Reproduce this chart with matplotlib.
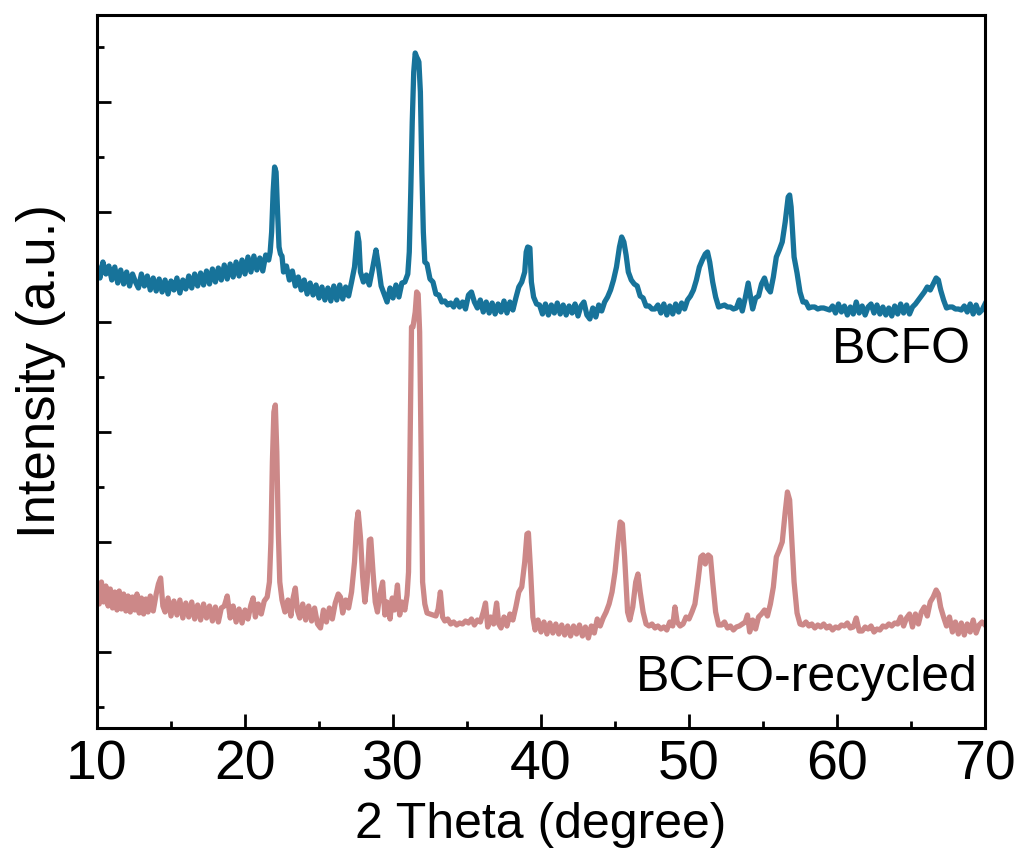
import matplotlib
matplotlib.use("Agg")
import matplotlib.pyplot as plt
from matplotlib.ticker import MultipleLocator, NullFormatter

plt.rcParams['font.family'] = ['Liberation Sans', 'DejaVu Sans']

# ---- BCFO (upper pattern) ----
bcfo_x = [10.0, 10.2, 10.4, 10.6, 10.8, 11.0, 11.2, 11.4, 11.6, 11.8, 12.0, 12.2, 12.4, 12.6, 12.8,
          13.0, 13.2, 13.4, 13.6, 13.8, 14.0, 14.2, 14.4, 14.6, 14.8, 15.0, 15.2, 15.4, 15.6, 15.8,
          16.0, 16.2, 16.4, 16.6, 16.8, 17.0, 17.2, 17.4, 17.6, 17.8, 18.0, 18.2, 18.4, 18.6, 18.8,
          19.0, 19.2, 19.4, 19.6, 19.8, 20.0, 20.2, 20.4, 20.6, 20.8, 21.0, 21.2, 21.4, 21.6, 21.7,
          21.8, 21.9, 22.0, 22.1, 22.2, 22.3, 22.4, 22.5, 22.6, 22.8, 23.0, 23.2, 23.4, 23.6, 23.8,
          24.0, 24.2, 24.4, 24.6, 24.8, 25.0, 25.2, 25.4, 25.6, 25.8, 26.0, 26.2, 26.4, 26.6, 26.8,
          27.0, 27.2, 27.4, 27.6, 27.7, 27.8, 28.0, 28.2, 28.4, 28.6, 28.85, 29.0, 29.2, 29.4, 29.6,
          29.8, 30.0, 30.2, 30.4, 30.6, 30.8, 31.0, 31.1, 31.2, 31.3, 31.4, 31.5, 31.6, 31.7, 31.75,
          31.85, 31.95, 32.05, 32.15, 32.3, 32.5, 32.7, 32.9, 33.1, 33.3, 33.5, 33.7, 33.9, 34.1, 34.3,
          34.5, 34.7, 34.9, 35.1, 35.3, 35.5, 35.7, 35.9, 36.1, 36.3, 36.5, 36.7, 36.9, 37.1, 37.3,
          37.5, 37.7, 37.9, 38.1, 38.3, 38.5, 38.7, 38.9, 39.0, 39.1, 39.25, 39.35, 39.5, 39.7, 39.9,
          40.1, 40.3, 40.5, 40.7, 40.9, 41.1, 41.3, 41.5, 41.7, 41.9, 42.1, 42.3, 42.5, 42.7, 42.9,
          43.1, 43.3, 43.5, 43.7, 43.9, 44.1, 44.3, 44.5, 44.7, 44.9, 45.1, 45.3, 45.45, 45.6, 45.75,
          45.9, 46.1, 46.3, 46.5, 46.7, 46.9, 47.1, 47.3, 47.5, 47.7, 47.9, 48.1, 48.3, 48.5, 48.7,
          48.9, 49.1, 49.3, 49.5, 49.7, 49.9, 50.1, 50.3, 50.5, 50.7, 50.9, 51.1, 51.25, 51.4, 51.6,
          51.8, 52.0, 52.2, 52.4, 52.6, 52.8, 53.0, 53.2, 53.4, 53.6, 53.8, 54.0, 54.15, 54.3, 54.5,
          54.7, 54.9, 55.1, 55.3, 55.5, 55.7, 55.9, 56.1, 56.3, 56.5, 56.7, 56.8, 56.9, 57.0, 57.1,
          57.3, 57.5, 57.7, 57.9, 58.1, 58.3, 58.5, 58.7, 58.9, 59.1, 59.3, 59.5, 59.7, 59.9, 60.1,
          60.3, 60.5, 60.7, 60.9, 61.1, 61.3, 61.5, 61.7, 61.9, 62.1, 62.3, 62.5, 62.7, 62.9, 63.1,
          63.3, 63.5, 63.7, 63.9, 64.1, 64.3, 64.5, 64.7, 64.9, 65.1, 65.3, 65.5, 65.7, 65.9, 66.1,
          66.3, 66.5, 66.7, 66.85, 67.0, 67.2, 67.4, 67.6, 67.8, 68.0, 68.2, 68.4, 68.6, 68.8, 69.0,
          69.2, 69.4, 69.6, 69.8, 70.0]
bcfo_y = [385, 374, 390, 378, 386, 372, 385, 369, 382, 368, 380, 366, 378, 370, 364,
          378, 366, 376, 362, 374, 361, 373, 360, 372, 358, 371, 362, 374, 359, 372,
          363, 376, 364, 378, 366, 379, 367, 381, 368, 383, 370, 384, 372, 387, 373,
          388, 375, 390, 376, 392, 378, 395, 380, 396, 382, 394, 381, 397, 392, 400,
          420, 460, 485, 480, 440, 405, 398, 396, 380, 386, 372, 381, 366, 375, 362,
          372, 358, 369, 357, 367, 354, 365, 352, 364, 351, 366, 352, 367, 353, 365,
          356, 370, 385, 419, 410, 380, 370, 377, 367, 382, 402, 388, 366, 358, 350,
          364, 354, 367, 355, 369, 370, 378, 400, 460, 530, 580, 599, 595, 592, 590,
          560, 480, 420, 390, 388, 373, 370, 358, 357, 350, 351, 347, 349, 345, 352,
          345, 350, 343, 357, 360, 350, 344, 352, 340, 350, 339, 349, 338, 348, 340,
          351, 339, 350, 342, 354, 365, 370, 380, 400, 405, 404, 370, 355, 348, 347,
          338, 348, 337, 347, 339, 349, 338, 347, 337, 346, 339, 348, 336, 346, 350,
          337, 333, 344, 335, 347, 341, 350, 355, 362, 372, 385, 405, 415, 410, 397,
          380, 372, 368, 366, 356, 354, 346, 346, 343, 343, 347, 339, 348, 337, 346,
          338, 348, 340, 349, 343, 352, 356, 362, 372, 385, 392, 398, 400, 390, 370,
          355, 345, 346, 347, 345, 345, 343, 344, 352, 341, 354, 369, 356, 343, 354,
          356, 368, 374, 364, 360, 375, 395, 402, 410, 430, 455, 457, 445, 420, 395,
          379, 360, 350, 350, 344, 345, 345, 343, 344, 344, 343, 342, 346, 339, 348,
          340, 346, 337, 345, 338, 350, 339, 346, 337, 345, 348, 339, 347, 338, 345,
          337, 344, 336, 346, 338, 348, 339, 347, 338, 345, 348, 352, 356, 360, 365,
          362, 368, 374, 372, 362, 352, 344, 345, 345, 343, 343, 342, 346, 340, 348,
          338, 347, 339, 342, 348]

# ---- BCFO-recycled (lower pattern) ----
rec_x = [10.0, 10.15, 10.3, 10.45, 10.6, 10.75, 10.9, 11.05, 11.2, 11.35, 11.5, 11.65, 11.8, 11.95, 12.1,
         12.25, 12.4, 12.55, 12.7, 12.85, 13.0, 13.15, 13.3, 13.45, 13.6, 13.8, 14.0, 14.15, 14.3, 14.45,
         14.6, 14.8, 15.0, 15.2, 15.4, 15.6, 15.8, 16.0, 16.2, 16.4, 16.6, 16.8, 17.0, 17.2, 17.4,
         17.6, 17.8, 18.0, 18.2, 18.4, 18.6, 18.8, 19.0, 19.2, 19.4, 19.6, 19.8, 20.0, 20.2, 20.4,
         20.55, 20.7, 20.9, 21.1, 21.3, 21.5, 21.65, 21.75, 21.85, 21.95, 22.05, 22.15, 22.25, 22.35, 22.5,
         22.7, 22.9, 23.1, 23.25, 23.4, 23.55, 23.7, 23.9, 24.1, 24.3, 24.5, 24.7, 24.9, 25.1, 25.3,
         25.5, 25.7, 25.9, 26.1, 26.3, 26.45, 26.6, 26.8, 27.0, 27.2, 27.4, 27.55, 27.65, 27.8, 27.95,
         28.1, 28.25, 28.4, 28.5, 28.65, 28.8, 28.95, 29.1, 29.3, 29.45, 29.6, 29.8, 29.95, 30.1, 30.3,
         30.45, 30.6, 30.8, 30.95, 31.05, 31.15, 31.25, 31.35, 31.5, 31.6, 31.7, 31.8, 31.9, 32.0, 32.15,
         32.3, 32.5, 32.7, 32.9, 33.05, 33.2, 33.35, 33.5, 33.7, 33.9, 34.1, 34.3, 34.5, 34.7, 34.9,
         35.1, 35.3, 35.5, 35.7, 35.9, 36.1, 36.25, 36.4, 36.6, 36.8, 37.0, 37.15, 37.3, 37.5, 37.7,
         37.9, 38.1, 38.3, 38.5, 38.7, 38.9, 39.05, 39.15, 39.3, 39.45, 39.6, 39.8, 40.0, 40.2, 40.4,
         40.6, 40.8, 41.0, 41.2, 41.4, 41.6, 41.8, 42.0, 42.2, 42.4, 42.6, 42.8, 43.0, 43.2, 43.4,
         43.6, 43.8, 44.0, 44.2, 44.4, 44.6, 44.8, 45.0, 45.2, 45.35, 45.5, 45.65, 45.85, 46.0, 46.2,
         46.4, 46.55, 46.7, 46.9, 47.1, 47.3, 47.5, 47.7, 47.9, 48.1, 48.3, 48.5, 48.7, 48.9, 49.05,
         49.2, 49.4, 49.6, 49.8, 50.0, 50.2, 50.4, 50.6, 50.8, 50.95, 51.1, 51.3, 51.45, 51.6, 51.8,
         52.0, 52.2, 52.4, 52.6, 52.8, 53.0, 53.2, 53.4, 53.6, 53.8, 53.95, 54.1, 54.3, 54.5, 54.7,
         54.9, 55.1, 55.3, 55.5, 55.7, 55.9, 56.1, 56.3, 56.5, 56.65, 56.8, 56.95, 57.1, 57.3, 57.5,
         57.7, 57.9, 58.1, 58.3, 58.5, 58.7, 58.9, 59.1, 59.3, 59.5, 59.7, 59.9, 60.1, 60.3, 60.5,
         60.7, 60.9, 61.1, 61.3, 61.5, 61.7, 61.9, 62.1, 62.3, 62.5, 62.7, 62.9, 63.1, 63.3, 63.5,
         63.7, 63.9, 64.1, 64.3, 64.5, 64.7, 64.9, 65.1, 65.3, 65.5, 65.7, 65.9, 66.1, 66.3, 66.5,
         66.7, 66.85, 67.0, 67.2, 67.4, 67.6, 67.8, 68.0, 68.2, 68.4, 68.6, 68.8, 69.0, 69.2, 69.4,
         69.6, 69.8, 70.0]
rec_y = [66, 48, 70, 50, 66, 46, 63, 44, 60, 42, 61, 43, 58, 41, 56,
         40, 55, 42, 58, 39, 54, 38, 53, 40, 56, 41, 58, 68, 74, 46,
         40, 54, 36, 51, 37, 52, 34, 49, 35, 50, 33, 47, 32, 48, 34,
         46, 31, 45, 30, 44, 46, 56, 34, 46, 30, 43, 29, 42, 33, 47,
         54, 35, 48, 38, 51, 55, 70, 110, 190, 240, 247, 200, 120, 70, 52,
         40, 52, 36, 54, 64, 41, 34, 48, 32, 46, 31, 44, 28, 24, 42,
         30, 44, 33, 49, 58, 55, 39, 52, 44, 60, 90, 130, 140, 115, 75,
         50, 70, 112, 113, 80, 50, 40, 57, 70, 37, 50, 33, 54, 42, 67,
         37, 50, 42, 57, 80, 200, 325, 325, 340, 360, 358, 320, 200, 70, 48,
         39, 38, 37, 36, 43, 60, 35, 31, 33, 28, 30, 27, 29, 28, 31,
         29, 33, 27, 32, 30, 40, 49, 25, 35, 28, 49, 28, 24, 35, 26,
         38, 32, 45, 60, 65, 90, 118, 119, 80, 35, 22, 32, 20, 30, 18,
         29, 19, 28, 18, 27, 17, 26, 16, 26, 18, 27, 16, 25, 14, 26,
         19, 33, 26, 34, 40, 48, 60, 80, 110, 130, 128, 95, 40, 32, 45,
         70, 78, 60, 40, 28, 26, 28, 24, 26, 23, 25, 22, 30, 26, 45,
         30, 26, 28, 35, 33, 40, 48, 70, 95, 97, 88, 97, 95, 70, 40,
         27, 27, 30, 24, 26, 22, 25, 26, 28, 30, 37, 20, 32, 23, 35,
         38, 42, 36, 48, 65, 95, 102, 110, 140, 160, 152, 110, 70, 39, 28,
         27, 30, 26, 28, 24, 27, 25, 28, 24, 26, 22, 25, 24, 27, 26,
         29, 24, 25, 34, 21, 21, 25, 23, 26, 20, 23, 22, 26, 25, 28,
         26, 29, 28, 35, 26, 34, 38, 25, 38, 28, 40, 45, 36, 50, 55,
         62, 58, 45, 35, 26, 35, 20, 30, 18, 29, 17, 28, 20, 32, 19,
         27, 30, 27]

labels = ["BCFO", "BCFO-recycled"]
colors = ["#17739a", "#cc8888"]

fig = plt.figure(figsize=(10.14, 8.55), dpi=100)
ax = fig.add_axes([97/1014, 1 - 728/855, (985 - 97)/1014, (728 - 15)/855])

ax.plot(bcfo_x, bcfo_y, color=colors[0], lw=3.8, solid_joinstyle='round')
ax.plot(rec_x, rec_y, color=colors[1], lw=3.8, solid_joinstyle='round')

ax.set_xlim(10, 70)
ax.set_ylim(-76, 637)

ax.xaxis.set_major_locator(MultipleLocator(10))
ax.xaxis.set_minor_locator(MultipleLocator(5))
ax.yaxis.set_major_locator(MultipleLocator(110))
ax.yaxis.set_minor_locator(MultipleLocator(55))
ax.yaxis.set_major_formatter(NullFormatter())

ax.tick_params(axis='both', which='major', direction='in', length=10, width=2, labelsize=40, pad=8)
ax.tick_params(axis='both', which='minor', direction='in', length=5, width=2)
ax.tick_params(top=False, right=False, which='both')
for s in ax.spines.values():
    s.set_linewidth(2.2)

ax.set_xlabel("2 Theta (degree)", fontsize=36, labelpad=8)
ax.set_ylabel("Intensity (a.u.)", fontsize=38, labelpad=14)

ax.text(0.984, 0.53, labels[0], transform=ax.transAxes, ha='right', va='center', fontsize=36)
ax.text(0.992, 0.07, labels[1], transform=ax.transAxes, ha='right', va='center', fontsize=36)

fig.savefig("out.png", dpi=100)
